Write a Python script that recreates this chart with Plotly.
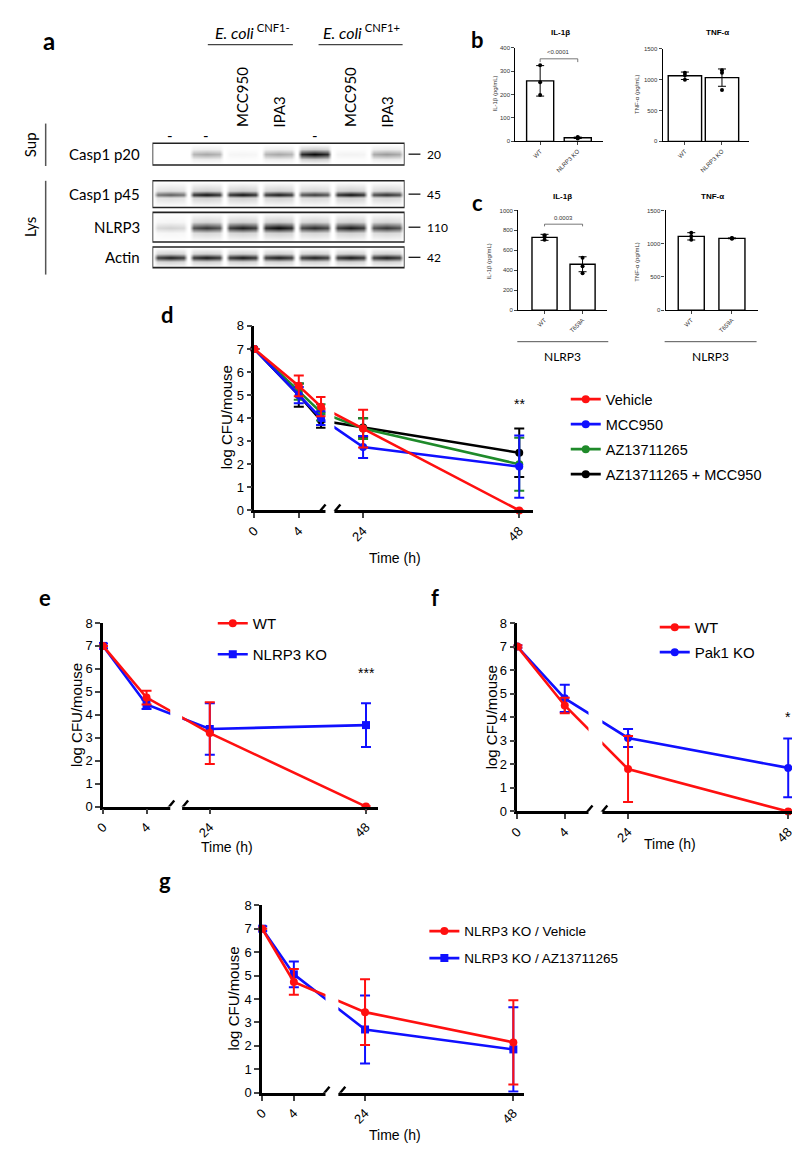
import plotly.graph_objects as go

W, H = 800, 1151


def dx(a, b):
    return [a / W, b / W]


def dy(top, bot):
    return [1 - bot / H, 1 - top / H]


def px(p):
    return p / W


def py(p):
    return 1 - p / H


# ------------------------------------------------------------------ data
# panel a : western blot (band darkness 0..1 per lane)
lanes = ["-", "-", "MCC950", "IPA3", "-", "MCC950", "IPA3"]
blot_labels = ["Casp1 p20", "Casp1 p45", "NLRP3", "Actin"]
blot_kda = ["20", "45", "110", "42"]
band_casp1_p20 = [0.0, 0.35, 0.04, 0.35, 1.0, 0.05, 0.4]
band_casp1_p45 = [0.65, 0.97, 0.97, 0.93, 0.8, 0.97, 0.85]
band_nlrp3 = [0.18, 0.82, 0.92, 1.0, 0.86, 0.93, 0.82]
band_actin = [0.92, 0.95, 0.95, 0.93, 0.92, 0.95, 0.93]

# panel b
b_groups = ["WT", "NLRP3 KO"]
b_il_mean = [258, 15]
b_il_sd = [65, 3]
b_il_pts = [[325, 198, 252], [12, 15, 18]]
b_tnf_mean = [1060, 1030]
b_tnf_sd = [60, 140]
b_tnf_pts = [[995, 1070, 1110], [830, 1110, 1150]]

# panel c
c_groups = ["WT", "T659A"]
c_il_mean = [730, 460]
c_il_sd = [30, 75]
c_il_pts = [[705, 735, 750], [370, 440, 525]]
c_tnf_mean = [1110, 1080]
c_tnf_sd = [55, 6]
c_tnf_pts = [[1060, 1110, 1165], [1074, 1080, 1086]]

# panels d-g : log CFU / mouse
time_ticks = [0, 4, 24, 48]

d_time = [0, 4, 6, 24, 48]
d_vehicle = [7.0, 5.4, 4.5, 3.55, 0.0]
d_vehicle_err = [0.0, 0.45, 0.42, 0.82, 0.0]
d_mcc950 = [7.0, 5.0, 4.0, 2.75, 1.9]
d_mcc950_err = [0.0, 0.35, 0.3, 0.48, 1.35]
d_az = [7.0, 5.15, 4.25, 3.55, 2.0]
d_az_err = [0.0, 0.35, 0.35, 0.45, 1.15]
d_az_mcc = [7.0, 5.0, 3.9, 3.6, 2.5]
d_az_mcc_err = [0.0, 0.5, 0.32, 0.4, 1.05]

e_time = [0, 4, 24, 48]
e_wt = [7.0, 4.75, 3.2, 0.0]
e_wt_err = [0.0, 0.3, 1.35, 0.0]
e_ko = [7.0, 4.45, 3.38, 3.55]
e_ko_err = [0.1, 0.2, 1.12, 0.95]

f_time = [0, 4, 24, 48]
f_wt = [7.0, 4.5, 1.8, 0.0]
f_wt_err = [0.05, 0.33, 1.4, 0.0]
f_ko = [7.0, 4.8, 3.12, 1.85]
f_ko_err = [0.05, 0.58, 0.38, 1.25]

g_time = [0, 4, 24, 48]
g_vehicle = [7.0, 4.73, 3.44, 2.15]
g_vehicle_err = [0.0, 0.55, 1.4, 1.8]
g_az = [7.0, 5.05, 2.7, 1.85]
g_az_err = [0.1, 0.55, 1.45, 1.8]

RED, BLUE, GREEN, BLACK = "#ff1010", "#1010ff", "#1f8a2a", "#000000"
ARIAL = "Liberation Sans"
CAL = "Lato"

fig = go.Figure()
layout = {}
shapes = []
ann = []


def text(x, y, s, size=12, family=ARIAL, color="black", angle=0, xa="center", ya="middle"):
    ann.append(dict(x=px(x), y=py(y), xref="paper", yref="paper", text=s, showarrow=False,
                    textangle=angle, xanchor=xa, yanchor=ya,
                    font=dict(size=size, family=family, color=color)))


def atext(x, y, s, xref, yref, size=6, color="#333", family=ARIAL):
    ann.append(dict(x=x, y=y, xref=xref, yref=yref, text=s, showarrow=False,
                    font=dict(size=size, family=family, color=color)))


def pline(x0, y0, x1, y1, w=1.2, color="black"):
    shapes.append(dict(type="line", xref="paper", yref="paper", x0=px(x0), y0=py(y0),
                       x1=px(x1), y1=py(y1), line=dict(color=color, width=w)))


# ------------------------------------------------------------------ panel a
strips = [(130, 152, 5), (168, 195, 3.5), (200, 230, 6), (235, 256, 4)]
bands = [band_casp1_p20, band_casp1_p45, band_nlrp3, band_actin]
col_prof = [0.0, 0.85, 1.0, 0.85, 0.0]
col_off = [-0.48, -0.36, 0.0, 0.36, 0.48]
for (top, bot, hh), band, lab, kda in zip(strips, bands, blot_labels, blot_kda):
    c = (top + bot) / 2
    ys = [top + 0.5, c - hh, c, c + hh, bot - 0.5]
    row_prof = [0.0, 0.2, 1.0, 0.2, 0.0]
    xs, cols = [], []
    for i, v in enumerate(band):
        for o, p in zip(col_off, col_prof):
            xs.append(i + o)
            cols.append(p * v)
    z = [[r * cval for cval in cols] for r in row_prof]
    fig.add_trace(go.Heatmap(x=xs, y=ys, z=z, zsmooth="best", zmin=0, zmax=1,
                             colorscale=[[0, "#ffffff"], [1, "#050505"]], showscale=False,
                             hoverinfo="skip", xaxis="x", yaxis="y"))
    shapes.append(dict(type="rect", xref="x", yref="y", x0=-0.5, x1=6.5, y0=top, y1=bot,
                       line=dict(color="#222", width=1.6), layer="above"))
    text(126, c, lab, size=15, family=CAL, xa="right")
    pline(396, c, 408, c, w=1.2)
    text(413, c, kda, size=12, family=CAL, xa="left")

layout["xaxis"] = dict(domain=dx(137, 392), range=[-0.5, 6.5], visible=False, anchor="y")
layout["yaxis"] = dict(domain=dy(100, 260), range=[260, 100], visible=False, anchor="x")

for i, l in enumerate(lanes):
    if l == "-":
        ann.append(dict(x=i, y=py(110), xref="x", yref="paper", text="-", showarrow=False,
                        font=dict(size=15, family=CAL, color="black")))
    else:
        ann.append(dict(x=i, y=py(116), xref="x", yref="paper", text=l, showarrow=False,
                        textangle=-90, xanchor="center", yanchor="bottom",
                        font=dict(size=15, family=CAL, color="black")))

text(238, 17, "<i>E. coli</i><sup> CNF1-</sup>", size=16, family=CAL)
text(348, 17, "<i>E. coli</i><sup> CNF1+</sup>", size=16, family=CAL)
pline(193, 30, 279, 30, w=1.2, color="#444")
pline(305, 30, 390, 30, w=1.2, color="#444")
text(13, 131, "Sup", size=15, family=CAL, angle=-90)
text(13, 215, "Lys", size=15, family=CAL, angle=-90)
pline(29, 110, 29, 153, w=1.5, color="#555")
pline(29, 168, 29, 263, w=1.5, color="#555")
text(32, 26, "<b>a</b>", size=24, family=CAL)


# ------------------------------------------------------------------ panels b, c
def bar_panel(n, groups, mean, sd, pts, xd, yd, xr, yr, dtick, width):
    xa, ya = f"x{n}", f"y{n}"
    fig.add_trace(go.Bar(x=[0, 1], y=mean, width=width, xaxis=xa, yaxis=ya, showlegend=False,
                         marker=dict(color="white", line=dict(color="black", width=1.4)),
                         error_y=dict(type="data", array=sd, color="black", thickness=1, width=4)))
    xs, ys = [], []
    for gi, grp in enumerate(pts):
        for v in grp:
            xs.append(gi)
            ys.append(v)
    fig.add_trace(go.Scatter(x=xs, y=ys, mode="markers", xaxis=xa, yaxis=ya, showlegend=False,
                             marker=dict(color="black", size=4), cliponaxis=False))
    common = dict(showline=True, linecolor="black", linewidth=1.3, ticks="outside", ticklen=3,
                  tickwidth=1, showgrid=False, zeroline=False,
                  tickfont=dict(size=6, family=ARIAL, color="#333"))
    layout[f"xaxis{n}"] = dict(domain=dx(*xd), range=xr, tickvals=[0, 1], ticktext=groups,
                               tickangle=-45, anchor=ya, **common)
    layout[f"yaxis{n}"] = dict(domain=dy(*yd), range=yr, dtick=dtick, anchor=xa, **common)


bar_panel(2, b_groups, b_il_mean, b_il_sd, b_il_pts, (504, 593), (33, 128), [-0.66, 1.68], [0, 400], 100, 0.72)
bar_panel(3, b_groups, b_tnf_mean, b_tnf_sd, b_tnf_pts, (653, 740), (34, 128), [-0.6, 1.72], [0, 1500], 500, 0.9)
bar_panel(4, c_groups, c_il_mean, c_il_sd, c_il_pts, (507, 597), (198, 299), [-0.69, 1.65], [0, 1000], 200, 0.66)
bar_panel(5, c_groups, c_tnf_mean, c_tnf_sd, c_tnf_pts, (656, 749), (198, 299), [-0.63, 1.63], [0, 1500], 500, 0.64)

# significance brackets
shapes.append(dict(type="path", xref="x2", yref="y2", path="M0,338 L0,352 L1,352 L1,338",
                   line=dict(color="#555", width=0.8)))
atext(0.5, 380, "<0.0001", "x2", "y2")
shapes.append(dict(type="path", xref="x4", yref="y4", path="M0,840 L0,862 L1,862 L1,840",
                   line=dict(color="#555", width=0.8)))
atext(0.5, 920, "0.0003", "x4", "y4")

text(550, 18, "<b>IL-1β</b>", size=8)
text(708, 18, "<b>TNF-α</b>", size=8)
text(552, 184, "<b>IL-1β</b>", size=8)
text(703, 184, "<b>TNF-α</b>", size=8)
text(483, 80, "IL-1β (pg/mL)", size=6, angle=-90, color="#333")
text(627, 80, "TNF-α (pg/mL)", size=6, angle=-90, color="#333")
text(477, 250, "IL-1β (pg/mL)", size=6, angle=-90, color="#333")
text(627, 250, "TNF-α (pg/mL)", size=6, angle=-90, color="#333")
pline(506, 331, 598, 331, w=1, color="#555")
pline(655, 331, 748, 331, w=1, color="#555")
text(552, 346, "NLRP3", size=12, family=CAL)
text(701, 346, "NLRP3", size=12, family=CAL)
text(466, 25, "<b>b</b>", size=22, family=CAL)
text(466, 190, "<b>c</b>", size=22, family=CAL)


# ------------------------------------------------------------------ panels d-g (broken time axis)
def brk(spec, t):
    if t <= 12:
        return t * spec["a"]
    return spec["s2"] + (t - spec["t2"]) * spec["b"]


def time_panel(n, spec, series, xd, yd, legend_name, leg, gap, star=None):
    xa, ya = f"x{n}", f"y{n}"
    for name, tt, vals, err, color, sym, rank in series:
        fig.add_trace(go.Scatter(
            x=[brk(spec, t) for t in tt], y=vals, name=name, mode="lines+markers",
            xaxis=xa, yaxis=ya, legend=legend_name, legendrank=rank, legendgroup=f"{n}{name}",
            cliponaxis=False,
            line=dict(color=color, width=2.6), marker=dict(color=color, size=8, symbol=sym),
            error_y=dict(type="data", array=err, color=color, thickness=2, width=5)))
    common = dict(showline=True, linecolor="black", linewidth=2.6, ticks="outside", ticklen=5,
                  tickwidth=2.2, showgrid=False, zeroline=False,
                  tickfont=dict(size=13, family=ARIAL, color="black"))
    layout[f"xaxis{n}"] = dict(domain=dx(*xd), range=[0, spec["end"]],
                               tickvals=[brk(spec, t) for t in time_ticks],
                               ticktext=[str(t) for t in time_ticks], tickangle=-45, anchor=ya, **common)
    layout[f"yaxis{n}"] = dict(domain=dy(*yd), range=[0, 8], dtick=1, tick0=0, anchor=xa, **common)
    # break: white gap + two slashes
    shapes.append(dict(type="rect", xref=xa, yref=f"{ya} domain", x0=gap[0], x1=gap[1],
                       y0=-0.02, y1=1.0, fillcolor="white", line=dict(width=0), layer="above"))
    for s in (spec["s1"], spec["s2"]):
        shapes.append(dict(type="line", xref=xa, yref=ya, xsizemode="pixel", ysizemode="pixel",
                           xanchor=s, yanchor=0, x0=-5, x1=5, y0=-6, y1=6,
                           line=dict(color="black", width=2.4), layer="above"))
    if star:
        ann.append(dict(x=brk(spec, 48), y=star[1], xref=xa, yref=ya, text=star[0], showarrow=False,
                        font=dict(size=14, family=ARIAL, color="black")))
    # leg = (line start x, first row centre y, row spacing, font size)
    lx, ly, sp, fs = leg
    item_h = fs * 1.3 + 3
    layout[legend_name] = dict(x=px(lx - 5), y=py(ly - 5 - item_h / 2), xanchor="left", yanchor="top",
                               bgcolor="rgba(0,0,0,0)", font=dict(size=fs, family=ARIAL, color="black"),
                               tracegroupgap=max(sp - item_h, 0), itemwidth=30)


spec_d = dict(a=11.25, s1=67, s2=82, t2=19.74, b=6.58, end=282)
time_panel(6, spec_d, [
    ("AZ13711265 + MCC950", d_time, d_az_mcc, d_az_mcc_err, BLACK, "circle", 4),
    ("AZ13711265", d_time, d_az, d_az_err, GREEN, "circle", 3),
    ("MCC950", d_time, d_mcc950, d_mcc950_err, BLUE, "circle", 2),
    ("Vehicle", d_time, d_vehicle, d_vehicle_err, RED, "circle", 1),
], (240, 522), (315, 502), "legend", (560, 389, 25, 14.5), (72, 81), star=("**", 4.6))

spec_e = dict(a=11, s1=67, s2=81, t2=19.9, b=6.583, end=278)
time_panel(7, spec_e, [
    ("NLRP3 KO", e_time, e_ko, e_ko_err, BLUE, "square", 2),
    ("WT", e_time, e_wt, e_wt_err, RED, "circle", 1),
], (87, 365), (616, 802), "legend2", (203, 616, 31, 15), (68, 80), star=("***", 5.8))

spec_f = dict(a=12, s1=71, s2=86, t2=20.15, b=6.75, end=287)
time_panel(8, spec_f, [
    ("Pak1 KO", f_time, f_ko, f_ko_err, BLUE, "circle", 2),
    ("WT", f_time, f_wt, f_wt_err, RED, "circle", 1),
], (506, 793), (616, 807), "legend3", (650, 620, 25, 15), (72, 86), star=("*", 4.0))

spec_g = dict(a=8, s1=63, s2=79, t2=20, b=6.25, end=265)
time_panel(9, spec_g, [
    ("NLRP3 KO / AZ13711265", g_time, g_az, g_az_err, BLUE, "square", 2),
    ("NLRP3 KO / Vehicle", g_time, g_vehicle, g_vehicle_err, RED, "circle", 1),
], (248, 513), (902, 1092), "legend4", (417, 928, 27, 13.5), (64, 77))

for (x, y) in [(212, 408), (60, 709), (480, 712), (218, 997)]:
    text(x, y, "log CFU/mouse", size=15, angle=-90)
for (x, y) in [(382, 550), (212, 843), (660, 840), (382, 1135)]:
    text(x, y, "Time (h)", size=14)
text(152, 303, "<b>d</b>", size=22, family=CAL)
text(28, 590, "<b>e</b>", size=22, family=CAL)
text(423, 590, "<b>f</b>", size=22, family=CAL)
text(150, 877, "<b>g</b>", size=22, family=CAL)

fig.update_layout(width=W, height=H, margin=dict(l=0, r=0, t=0, b=0),
                  paper_bgcolor="white", plot_bgcolor="white", showlegend=True,
                  shapes=shapes, annotations=ann, **layout)
fig.write_html("out.html")
